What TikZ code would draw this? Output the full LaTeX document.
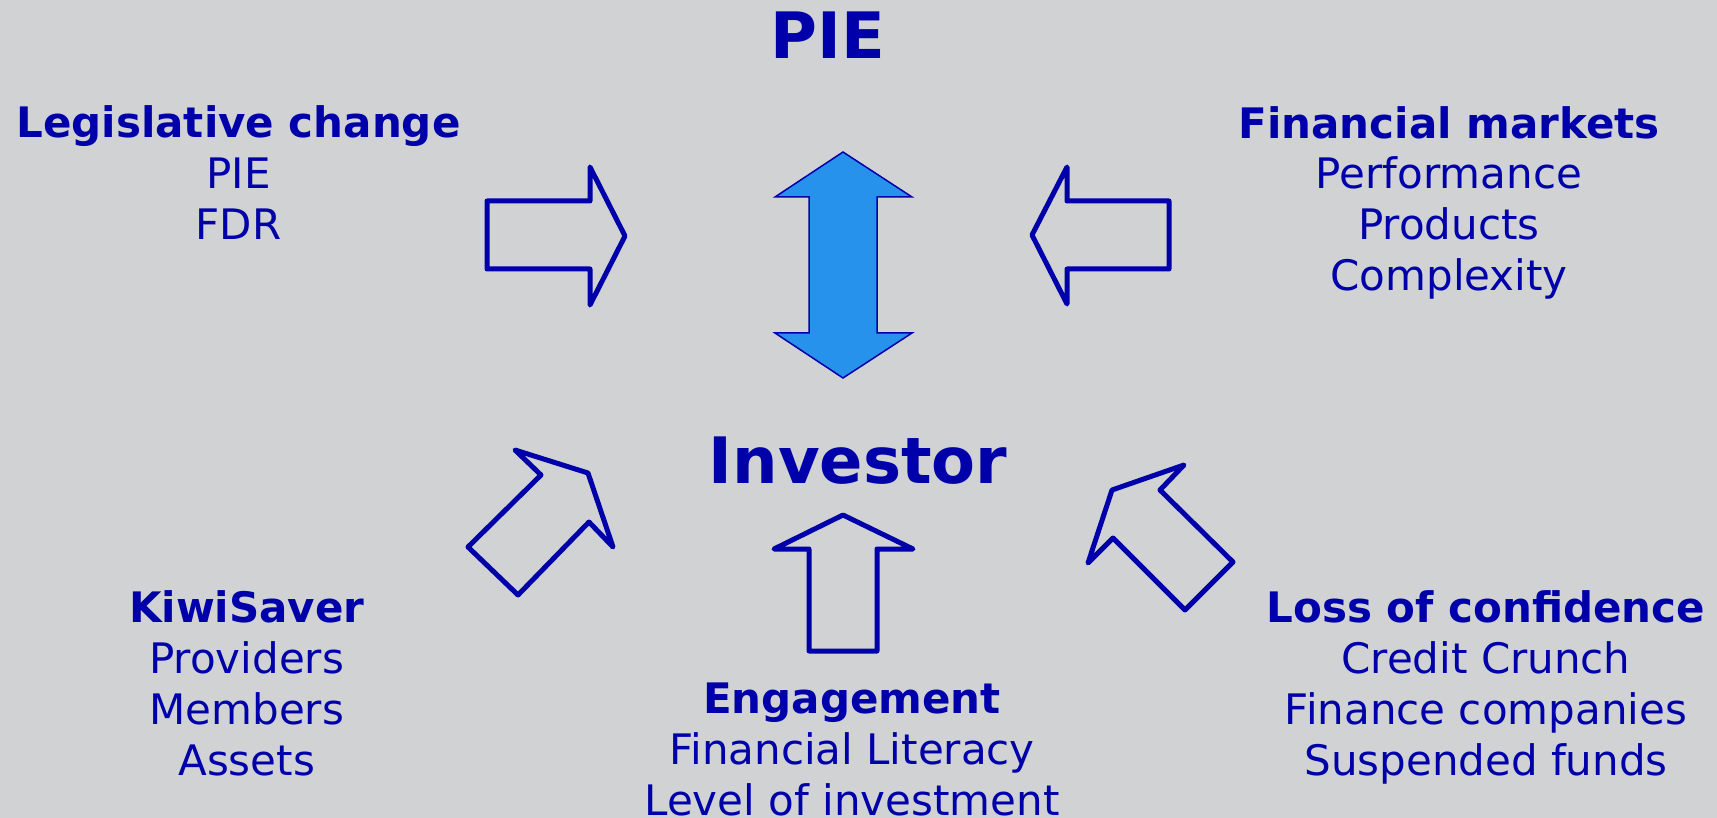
\documentclass[tikz,border=0pt]{standalone}
\usepackage{fontspec}
\setmainfont{DejaVu Sans}
\definecolor{ink}{RGB}{0,0,170}
\definecolor{paper}{RGB}{209,210,212}
\definecolor{sky}{RGB}{38,146,235}
\tikzset{
  hollow/.style={draw=ink, line width=5pt, line join=round},
  filled/.style={draw=ink, fill=sky, line width=1.5pt, line join=miter},
  bigtitle/.style={text=ink, anchor=base, inner sep=0pt, font=\fontsize{64}{76}\selectfont\bfseries},
  factor/.style={text=ink, anchor=base, inner sep=0pt, align=center, font=\fontsize{42}{51}\selectfont}
}
\begin{document}
\begin{tikzpicture}[x=1pt,y=-1pt]
\fill[paper] (0,0) rectangle (1717,818);
\useasboundingbox (0,0) rectangle (1717,818);
% the two ends
\node[bigtitle] (pie) at (828,59) {PIE};
\node[bigtitle] (investor) at (858,483) {Investor};
\draw[filled] (843,152) -- (912,197) -- (877,197) -- (877,333) -- (912,333) -- (843,378)
    -- (775,333) -- (809,333) -- (809,197) -- (775,197) -- cycle;
% the forces (base = last line)
\node[factor] (legislative) at (238.5,240) {\textbf{Legislative change}\\PIE\\FDR};
\node[factor] (markets) at (1449,291) {\textbf{Financial markets}\\Performance\\Products\\Complexity};
\node[factor] (kiwisaver) at (246.7,775) {\textbf{KiwiSaver}\\Providers\\Members\\Assets};
\node[factor] (engagement) at (852,815) {\textbf{Engagement}\\Financial Literacy\\Level of investment};
\node[factor] (confidence) at (1486,775) {\textbf{Loss of confidence}\\Credit Crunch\\Finance companies\\Suspended funds};
\draw[hollow]
    (487,201) -- (590,201) -- (590,167) -- (625,236) -- (590,305) -- (590,269) -- (487,269) -- cycle
    (1169,201) -- (1067,201) -- (1067,167) -- (1032,235) -- (1067,304) -- (1067,269) -- (1169,269) -- cycle
    (843,515) -- (913,549) -- (877,549) -- (877,651) -- (809,651) -- (809,549) -- (774,549) -- cycle
    (468,547) -- (518,595) -- (589,522) -- (613,547) -- (588,473) -- (515,450) -- (541,475) -- cycle
    (1112,490) -- (1184,465) -- (1160,490) -- (1233,562) -- (1185,610) -- (1113,538) -- (1088,563) -- cycle;
\end{tikzpicture}
\end{document}
